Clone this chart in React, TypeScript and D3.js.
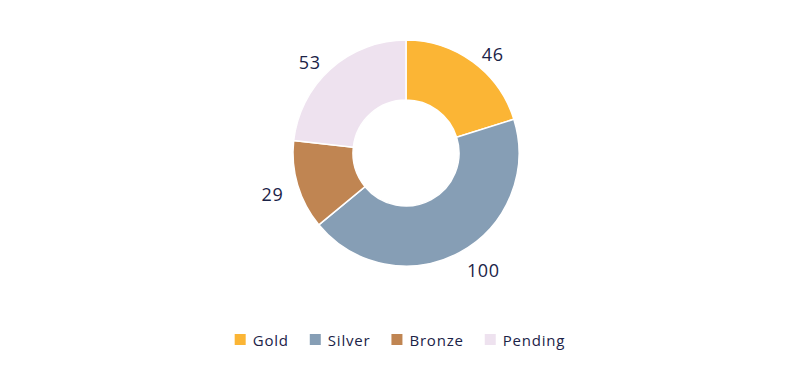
import React, { useEffect, useRef } from "react";
import * as d3 from "d3";

const categories = ["Gold", "Silver", "Bronze", "Pending"];
const values = [46, 100, 29, 53];
const colors = ["#FBB535", "#869EB5", "#C08552", "#EEE2EF"];

const W = 800;
const H = 370;
const FONT = "'Open Sans', 'Lato', sans-serif";
const TEXT = "#1B2347";

export default function App() {
  const ref = useRef<SVGSVGElement | null>(null);

  useEffect(() => {
    const svg = d3.select(ref.current);
    svg.selectAll("*").remove();

    const cx = 406, cy = 153, rOuter = 113, rInner = 53;
    const data = categories.map((c, i) => ({ name: c, value: values[i], color: colors[i] }));
    const pie = d3.pie<any>().value((d) => d.value).sort(null);
    const arcs = pie(data);
    const arc = d3.arc<any>().innerRadius(rInner).outerRadius(rOuter);

    const g = svg.append("g").attr("transform", `translate(${cx},${cy})`);
    g.selectAll("path")
      .data(arcs)
      .join("path")
      .attr("d", arc as any)
      .attr("fill", (d: any) => d.data.color)
      .attr("stroke", "#ffffff")
      .attr("stroke-width", 1.5);

    const labelR = 128;
    g.selectAll("text")
      .data(arcs)
      .join("text")
      .attr("x", (d: any) => labelR * Math.sin((d.startAngle + d.endAngle) / 2))
      .attr("y", (d: any) => -labelR * Math.cos((d.startAngle + d.endAngle) / 2) + 4)
      .attr("text-anchor", (d: any) => ((d.startAngle + d.endAngle) / 2 < Math.PI ? "start" : "end"))
      .attr("dominant-baseline", "central")
      .attr("font-family", FONT)
      .attr("font-size", 18)
      .attr("letter-spacing", 0.6)
      .attr("fill", TEXT)
      .text((d: any) => String(d.data.value));

    // legend
    const lg = svg.append("g");
    const sq = 11, gap = 7, itemGap = 21;
    const items = lg.selectAll("g").data(data).join("g");
    items.append("rect")
      .attr("width", sq).attr("height", sq).attr("y", 334)
      .attr("fill", (d: any) => d.color);
    const texts = items.append("text")
      .attr("x", sq + gap)
      .attr("y", 340)
      .attr("dominant-baseline", "central")
      .attr("font-family", FONT)
      .attr("font-size", 15)
      .attr("letter-spacing", 0.8)
      .attr("fill", TEXT)
      .text((d: any) => d.name);
    const widths: number[] = [];
    texts.each(function () { widths.push((this as SVGTextElement).getComputedTextLength()); });
    const itemW = widths.map((w) => sq + gap + w);
    const total = d3.sum(itemW) + itemGap * (itemW.length - 1);
    let x = W / 2 - total / 2;
    items.attr("transform", (_d: any, i: number) => {
      const t = `translate(${x},0)`;
      x += itemW[i] + itemGap;
      return t;
    });
  }, []);

  return <svg ref={ref} width={W} height={H} style={{ display: "block", position: "absolute", left: 0, top: 0 }} />;
}
